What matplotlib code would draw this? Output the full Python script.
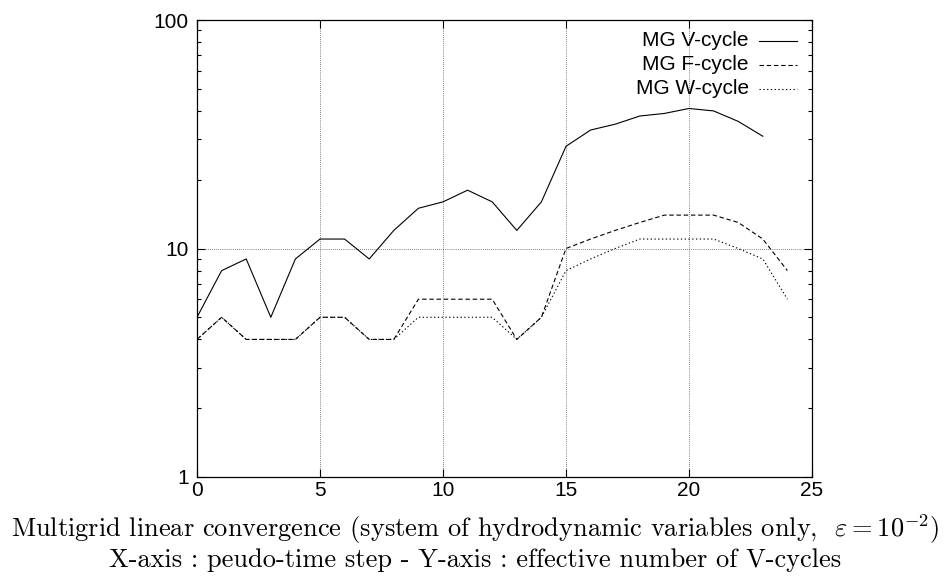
import matplotlib
matplotlib.use("Agg")
import matplotlib.pyplot as plt
from matplotlib.ticker import LogLocator, NullFormatter, FixedLocator

plt.rcParams['font.family'] = ['Liberation Sans', 'DejaVu Sans']
plt.rcParams['mathtext.fontset'] = 'cm'

# pseudo-time step
steps = list(range(25))

# effective number of V-cycles
v_cycle = [5, 8, 9, 5, 9, 11, 11, 9, 12, 15, 16, 18, 16, 12, 16,
           28, 33, 35, 38, 39, 41, 40, 36, 31]
f_cycle = [4, 5, 4, 4, 4, 5, 5, 4, 4, 6, 6, 6, 6, 4, 5,
           10, 11, 12, 13, 14, 14, 14, 13, 11, 8]
w_cycle = [4, 5, 4, 4, 4, 5, 5, 4, 4, 5, 5, 5, 5, 4, 5,
           8, 9, 10, 11, 11, 11, 11, 10, 9, 6]

labels = ["MG V-cycle", "MG F-cycle", "MG W-cycle"]
x_ticks = [0, 5, 10, 15, 20, 25]
y_ticks = [1, 10, 100]

fig = plt.figure(figsize=(9.51, 5.8), dpi=100)
ax = fig.add_axes([197 / 951, 1 - 477 / 580, 615 / 951, 457 / 580])

styles = ['-', (0, (4, 2.5)), (0, (1.2, 2.2))]
series = [v_cycle, f_cycle, w_cycle]
for data, ls in zip(series, styles):
    ax.plot(steps[:len(data)], data, color='black', linestyle=ls, linewidth=0.8)

ax.set_yscale('log')
ax.set_xlim(0, 25)
ax.set_ylim(1, 100)
ax.xaxis.set_major_locator(FixedLocator(x_ticks))
ax.yaxis.set_major_locator(FixedLocator(y_ticks))
ax.set_yticklabels([str(v) for v in y_ticks])
ax.yaxis.set_minor_locator(LogLocator(base=10, subs=range(2, 10)))
ax.yaxis.set_minor_formatter(NullFormatter())

ax.grid(True, which='major', color='#555555', linestyle=(0, (1, 1.5)), linewidth=0.6)
ax.tick_params(which='both', direction='in', top=True, right=True,
               labelsize=15, width=0.8, color='black')
ax.tick_params(which='major', length=6, pad=6)
ax.tick_params(which='minor', length=3)
ax.tick_params(axis='x', pad=3)
for sp in ax.spines.values():
    sp.set_linewidth(0.9)

# gnuplot-style key: right-aligned text, line sample on the right
for i, (lab, ls) in enumerate(zip(labels, styles)):
    yk = 0.955 - i * 0.0525
    ax.text(0.897, yk, lab, transform=ax.transAxes, ha='right', va='center',
            fontsize=15)
    ax.plot([0.914, 0.976], [yk, yk], transform=ax.transAxes, color='black',
            linestyle=ls, linewidth=0.8)

fig.text(0.5, 1 - 537 / 580,
         r"Multigrid linear convergence (system of hydrodynamic variables only,  $\varepsilon = 10^{-2}$)",
         ha='center', va='baseline', fontsize=19, family='cmr10')
fig.text(0.5, 1 - 567 / 580,
         "X-axis : peudo-time step - Y-axis : effective number of V-cycles",
         ha='center', va='baseline', fontsize=19, family='cmr10')

fig.savefig("out.png", dpi=100)
